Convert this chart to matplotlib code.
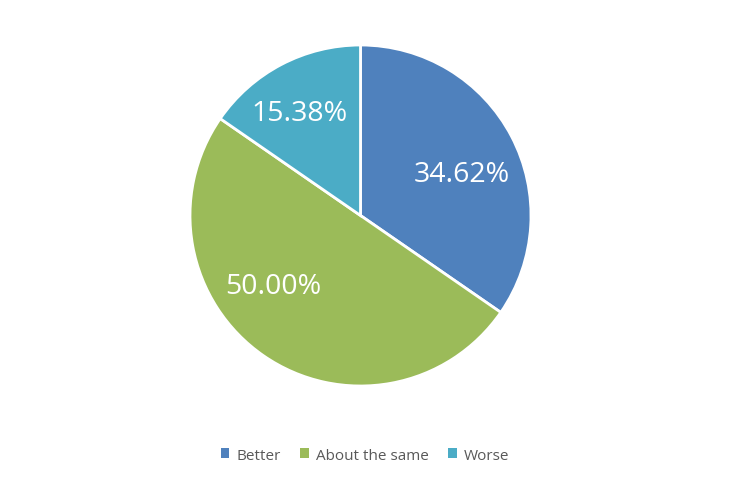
import numpy as np
import matplotlib.pyplot as plt
from matplotlib.patches import Patch

labels = ['Better', 'About the same', 'Worse']
values = [34.62, 50.00, 15.38]
colors = ['#4F81BD', '#9BBB59', '#4BACC6']

plt.rcParams['font.family'] = ['Open Sans', 'DejaVu Sans']

fig = plt.figure(figsize=(7.34, 4.81), dpi=100)
ax = fig.add_axes([190 / 734, 94 / 481, 341 / 734, 341 / 481])

wedges, texts, autotexts = ax.pie(
    values, colors=colors, startangle=90, counterclock=False,
    autopct='%.2f%%', pctdistance=0.65, radius=1,
    wedgeprops=dict(edgecolor='white', linewidth=2),
    textprops=dict(color='white', fontsize=20.5))
ax.set_xlim(-1, 1)
ax.set_ylim(-1, 1)

# excel "best fit" label placement: rotate a bit from the wedge middle
label_angle = [22.5, -141, 120.5]
label_dist = [0.64, 0.66, 0.70]
for t, a, d in zip(autotexts, label_angle, label_dist):
    t.set_position((d * np.cos(np.radians(a)), d * np.sin(np.radians(a))))

handles = [Patch(facecolor=c, edgecolor='none') for c in colors]
fig.legend(handles, labels, loc='center', bbox_to_anchor=(365 / 734, 1 - 456 / 481),
           ncol=3, frameon=False, fontsize=11, labelcolor='#595959',
           handlelength=0.55, handleheight=0.55, handletextpad=0.45, columnspacing=1.3)

fig.savefig('out.png', dpi=100)
